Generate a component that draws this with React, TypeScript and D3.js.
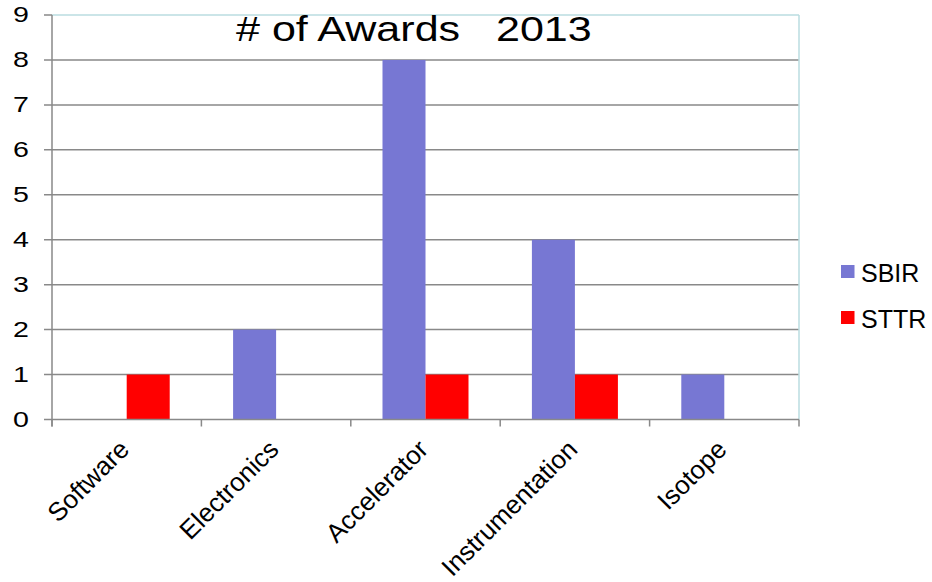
import React from "react";
import * as d3 from "d3";

const categories = ["Software", "Electronics", "Accelerator", "Instrumentation", "Isotope"];
const seriesNames = ["SBIR", "STTR"];
const sbirValues = [0, 2, 8, 4, 1];
const sttrValues = [1, 0, 1, 1, 0];
const yTicks = [0, 1, 2, 3, 4, 5, 6, 7, 8, 9];
const titleText = "# of Awards   2013";

const colors: Record<string, string> = { SBIR: "#7777D3", STTR: "#FF0000" };

export default function App() {
  const W = 932, H = 582;
  const left = 52, right = 799, top = 15, bottom = 419.5;
  const x = d3.scaleBand<string>().domain(categories).range([left, right]).paddingInner(0).paddingOuter(0);
  const xs = d3.scaleBand<string>().domain(seriesNames).range([0, x.bandwidth()]).paddingInner(0).paddingOuter(0.737);
  const y = d3.scaleLinear().domain([0, 9]).range([bottom, top]);
  const data = categories.map((c, i) => ({ c, SBIR: sbirValues[i], STTR: sttrValues[i] }));
  const font = "'Liberation Sans', Arial, sans-serif";
  const boundaries = [...categories.map((c) => x(c) as number), right];

  return (
    <svg width={W} height={H} style={{ position: "absolute", left: 0, top: 0, background: "#fff" }} fontFamily={font}>
      {/* gridlines */}
      {yTicks.filter((t) => t > 0 && t < 9).map((t) => (
        <line key={t} x1={left - 8} x2={right} y1={y(t)} y2={y(t)} stroke="#898989" strokeWidth={1.5} />
      ))}
      {/* plot border top/right */}
      <line x1={left} x2={right} y1={y(9)} y2={y(9)} stroke="#BADDE0" strokeWidth={1.5} />
      <line x1={right} x2={right} y1={y(9)} y2={y(0)} stroke="#BADDE0" strokeWidth={1.5} />
      <line x1={left - 8} x2={left} y1={y(9)} y2={y(9)} stroke="#898989" strokeWidth={1.5} />
      {/* bars */}
      {data.map((d) =>
        seriesNames.map((s) => {
          const v = (d as any)[s] as number;
          if (!v) return null;
          return (
            <rect
              key={d.c + s}
              x={(x(d.c) as number) + (xs(s) as number)}
              y={y(v)}
              width={xs.bandwidth()}
              height={y(0) - y(v)}
              fill={colors[s]}
            />
          );
        })
      )}
      {/* axes */}
      <line x1={left - 8} x2={right} y1={y(0)} y2={y(0)} stroke="#898989" strokeWidth={1.5} />
      <line x1={left} x2={left} y1={y(9)} y2={y(0) + 7} stroke="#898989" strokeWidth={1.5} />
      {boundaries.map((b, i) => (
        <line key={i} x1={b} x2={b} y1={y(0)} y2={y(0) + 7} stroke="#898989" strokeWidth={1.5} />
      ))}
      {/* y tick labels */}
      {yTicks.map((t) => (
        <text
          key={t}
          transform={`translate(29, ${y(t) + 7}) scale(1.3, 1)`}
          textAnchor="end"
          fontSize={22}
          fill="#000"
        >
          {t}
        </text>
      ))}
      {/* x labels */}
      {categories.map((c) => (
        <text
          key={c}
          transform={`translate(${(x(c) as number) + x.bandwidth() / 2 + 4}, 451) rotate(-45)`}
          textAnchor="end"
          fontSize={26}
          fill="#000"
        >
          {c}
        </text>
      ))}
      {/* title */}
      <text transform="translate(236, 41) scale(1.23, 1)" fontSize={35} fill="#000" style={{ whiteSpace: "pre" }}>
        {titleText}
      </text>
      {/* legend */}
      {seriesNames.map((s, i) => (
        <g key={s} transform={`translate(841, ${265 + i * 46})`}>
          <rect x={0} y={0} width={13.5} height={13} fill={colors[s]} />
          <text x={20} y={16.5} fontSize={25} fill="#000">
            {s}
          </text>
        </g>
      ))}
    </svg>
  );
}
